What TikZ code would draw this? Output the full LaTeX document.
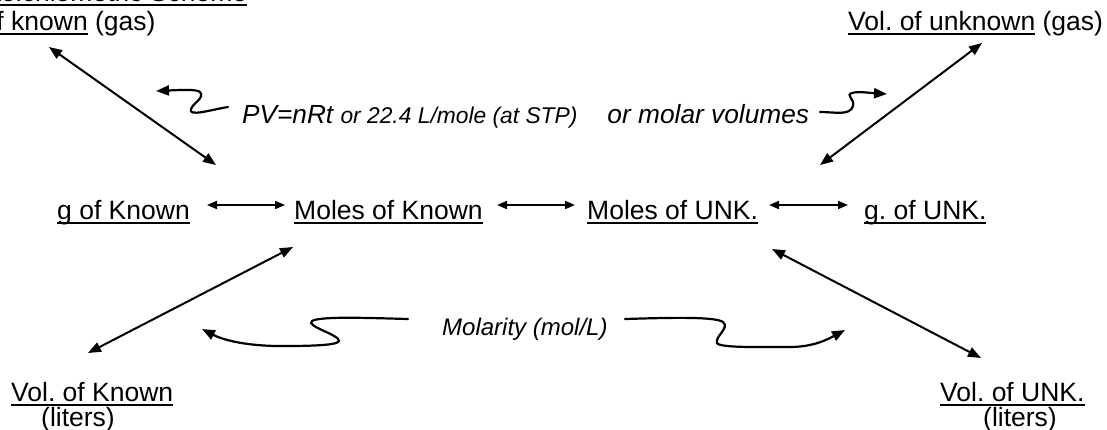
\documentclass[tikz,border=0pt]{standalone}
\usepackage{fontspec}
\setmainfont{Liberation Sans}
\usetikzlibrary{arrows.meta}
\frenchspacing
\newcommand\myul[1]{\setbox0\hbox{#1}\rlap{\rule[-0.19em]{\wd0}{0.075em}}\box0\relax}
\tikzset{
  lbl/.style={inner sep=0pt, anchor=base west, font=\fontsize{26.5}{30}\selectfont},
  note/.style={inner sep=0pt, anchor=base west, font=\itshape\fontsize{26.3}{30}\selectfont},
  conn/.style={line width=2pt, {Triangle[length=13pt,width=10pt]}-{Triangle[length=13pt,width=10pt]}},
  rowconn/.style={line width=1.8pt, {Triangle[length=10pt,width=8pt]}-{Triangle[length=10pt,width=8pt]}},
  wig/.style={line width=2.2pt, -{Triangle[length=13pt,width=10pt]}, line cap=round},
}
\begin{document}
\begin{tikzpicture}[x=1pt,y=-1pt]
\useasboundingbox (0,0) rectangle (1107,429);
\clip (0,0) rectangle (1107,429);
\fill[white] (0,0) rectangle (1107,429);
% labels
\node[lbl] (title) at (-24,1) {\myul{Stoichiometric Scheme}};
\node[lbl] (vk) at (-70,30) {\myul{Vol. of known} (gas)};
\node[lbl] (vu) at (848,30) {\myul{Vol. of unknown} (gas)};
\node[lbl] (gk) at (57,219) {\myul{g of Known}};
\node[lbl] (mk) at (294,219) {\myul{Moles of Known}};
\node[lbl] (mu) at (587,219) {\myul{Moles of UNK.}};
\node[lbl] (gu) at (864,219) {\myul{g. of UNK.}};
\node[lbl] (lk) at (11,401) {\myul{Vol. of Known}};
\node[lbl] (lkl) at (41,426) {(liters)};
\node[lbl] (lu) at (940,401) {\myul{Vol. of UNK.}};
\node[lbl] (lul) at (983,426) {(liters)};
\node[note] (pv) at (242,123) {{\fontsize{26.2}{30}\selectfont PV=nRt} {\fontsize{22.8}{27}\selectfont or 22.4 L/mole (at STP)}\hspace{30pt}or molar volumes};
\node[note, font=\itshape\fontsize{24}{28}\selectfont] (mol) at (442,335) {Molarity (mol/L)};
% connector end points
\coordinate (a1) at (49,47);   \coordinate (a2) at (216,165);
\coordinate (b1) at (982,43);  \coordinate (b2) at (820,165);
\coordinate (c1) at (293,247); \coordinate (c2) at (88,353);
\coordinate (d1) at (772,249); \coordinate (d2) at (981,358);
\coordinate (r1a) at (207,205); \coordinate (r1b) at (285,205);
\coordinate (r2a) at (497,205); \coordinate (r2b) at (575,205);
\coordinate (r3a) at (769,205); \coordinate (r3b) at (848,205);
\coordinate (w1s) at (228,107); \coordinate (w1e) at (156,91);
\coordinate (w2s) at (820,112); \coordinate (w2e) at (887,94);
\coordinate (w3s) at (408,319); \coordinate (w3e) at (202,329);
\coordinate (w4s) at (625,319); \coordinate (w4e) at (845,330);
% straight connectors
\draw[conn] (a1) -- (a2);
\draw[conn] (b1) -- (b2);
\draw[conn] (c1) -- (c2);
\draw[conn] (d1) -- (d2);
\draw[rowconn] (r1a) -- (r1b);
\draw[rowconn] (r2a) -- (r2b);
\draw[rowconn] (r3a) -- (r3b);
% wiggly pointers
\draw[wig] (w1s) .. controls (210,110) and (188,117) .. (191,109)
  .. controls (193,103) and (205,98) .. (200,92)
  .. controls (197,89) and (180,90) .. (w1e);
\draw[wig] (w2s) .. controls (835,112) and (850,116) .. (853,106)
  .. controls (855,99) and (845,95) .. (852,93)
  .. controls (858,91) and (870,93) .. (w2e);
\draw[wig] (w3s) .. controls (370,318) and (320,316) .. (312,321)
  .. controls (305,326) and (340,335) .. (339,341)
  .. controls (338,346) and (300,346) .. (280,346)
  .. controls (250,346) and (225,341) .. (w3e);
\draw[wig] (w4s) .. controls (660,318) and (715,316) .. (723,322)
  .. controls (730,328) and (715,336) .. (717,343)
  .. controls (719,348) and (760,347) .. (790,347)
  .. controls (815,347) and (830,338) .. (w4e);
\end{tikzpicture}
\end{document}
